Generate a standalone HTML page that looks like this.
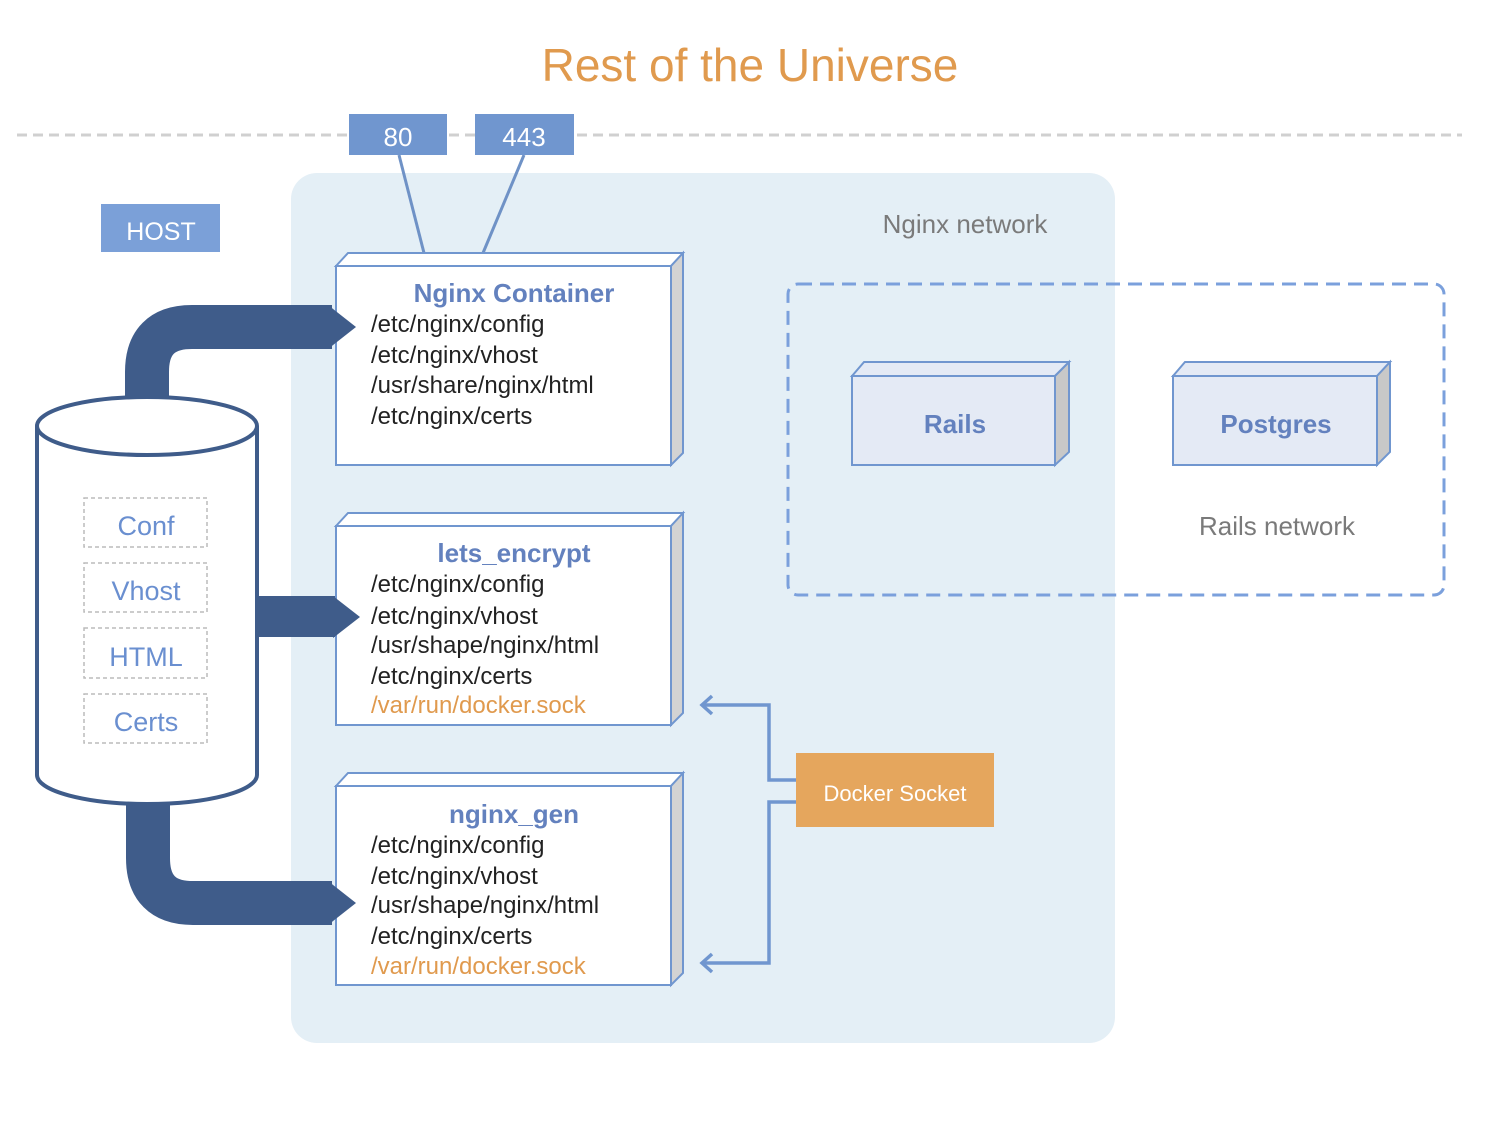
<!DOCTYPE html>
<html><head><meta charset="utf-8"><style>body{margin:0;background:#fff}svg{display:block}text{font-family:"Liberation Sans",sans-serif}</style></head>
<body>
<svg width="1500" height="1125" viewBox="0 0 1500 1125" xmlns="http://www.w3.org/2000/svg">
<text x="750" y="81" text-anchor="middle" font-size="46" fill="#E09A4E">Rest of the Universe</text>
<line x1="17" y1="135" x2="1462" y2="135" stroke="#d0d0d0" stroke-width="3" stroke-dasharray="10 6"/>
<rect x="291" y="173" width="824" height="870" rx="26" fill="#E4EFF6"/>
<line x1="399" y1="155" x2="424" y2="253" stroke="#6F92C6" stroke-width="3"/>
<line x1="524" y1="155" x2="483" y2="253" stroke="#6F92C6" stroke-width="3"/>
<rect x="349" y="114" width="98" height="41" fill="#7096CF"/>
<text x="398" y="146" text-anchor="middle" font-size="26" fill="#fff">80</text>
<rect x="475" y="114" width="99" height="41" fill="#7096CF"/>
<text x="524" y="146" text-anchor="middle" font-size="26" fill="#fff">443</text>
<rect x="101" y="204" width="119" height="48" fill="#7BA0D8"/>
<text x="161" y="240" text-anchor="middle" font-size="25" fill="#fff">HOST</text>
<text x="965" y="233" text-anchor="middle" font-size="26" fill="#7a7a7a">Nginx network</text>

<g stroke="#7096CF" stroke-width="2">
<polygon points="336,266 348,253 683,253 671,266" fill="#fff"/>
<polygon points="671,266 683,253 683,453 671,465" fill="#d3d3d3"/>
<rect x="336" y="266" width="335" height="199" fill="#fff"/>
<polygon points="336,526 348,513 683,513 671,526" fill="#fff"/>
<polygon points="671,526 683,513 683,713 671,725" fill="#d3d3d3"/>
<rect x="336" y="526" width="335" height="199" fill="#fff"/>
<polygon points="336,786 348,773 683,773 671,786" fill="#fff"/>
<polygon points="671,786 683,773 683,973 671,985" fill="#d3d3d3"/>
<rect x="336" y="786" width="335" height="199" fill="#fff"/>
</g>
<g font-size="24" fill="#222">
<text x="514" y="302" text-anchor="middle" font-weight="bold" fill="#6381BE" font-size="26">Nginx Container</text>
<text x="371" y="332">/etc/nginx/config</text>
<text x="371" y="363">/etc/nginx/vhost</text>
<text x="371" y="393">/usr/share/nginx/html</text>
<text x="371" y="424">/etc/nginx/certs</text>
<text x="514" y="562" text-anchor="middle" font-weight="bold" fill="#6381BE" font-size="26">lets_encrypt</text>
<text x="371" y="592">/etc/nginx/config</text>
<text x="371" y="624">/etc/nginx/vhost</text>
<text x="371" y="653">/usr/shape/nginx/html</text>
<text x="371" y="684">/etc/nginx/certs</text>
<text x="371" y="713" fill="#E09A4E">/var/run/docker.sock</text>
<text x="514" y="823" text-anchor="middle" font-weight="bold" fill="#6381BE" font-size="26">nginx_gen</text>
<text x="371" y="853">/etc/nginx/config</text>
<text x="371" y="884">/etc/nginx/vhost</text>
<text x="371" y="913">/usr/shape/nginx/html</text>
<text x="371" y="944">/etc/nginx/certs</text>
<text x="371" y="974" fill="#E09A4E">/var/run/docker.sock</text>
</g>

<g fill="none" stroke="#3F5C8A" stroke-width="44">
<path d="M147,410 V372 Q147,327 192,327 H332"/>
<path d="M148,790 V858 Q148,903 193,903 H332"/>
</g>
<g fill="#3F5C8A">
<polygon points="328,305 356,327 328,349"/>
<polygon points="328,881 356,903 328,925"/>
<rect x="255" y="596" width="80" height="41"/>
<polygon points="333,596 360,617 333,638"/>
</g>

<path d="M37,426 V775 A110,29 0 0 0 257,775 V426" fill="#fff" stroke="#3F5C8A" stroke-width="4"/>
<ellipse cx="147" cy="426" rx="110" ry="29" fill="#fff" stroke="#3F5C8A" stroke-width="4"/>
<g fill="#fff" stroke="#bbb" stroke-width="1.5" stroke-dasharray="4 3">
<rect x="84" y="498" width="123" height="49"/>
<rect x="84" y="563" width="123" height="49"/>
<rect x="84" y="628" width="123" height="50"/>
<rect x="84" y="694" width="123" height="49"/>
</g>
<g font-size="27" fill="#6A8FD0" text-anchor="middle">
<text x="146" y="535">Conf</text>
<text x="146" y="600">Vhost</text>
<text x="146" y="666">HTML</text>
<text x="146" y="731">Certs</text>
</g>

<g fill="none" stroke="#7096CF" stroke-width="3.5">
<path d="M796,780 H769 V705 H702"/>
<path d="M712,696 L702,705 L712,714"/>
<path d="M796,802 H769 V963 H702"/>
<path d="M712,954 L702,963 L712,972"/>
</g>
<rect x="796" y="753" width="198" height="74" fill="#E5A65D"/>
<text x="895" y="801" text-anchor="middle" font-size="22" fill="#fff">Docker Socket</text>

<rect x="788" y="284" width="656" height="311" rx="10" fill="none" stroke="#7BA0DC" stroke-width="3" stroke-dasharray="14 8"/>
<g stroke="#7096CF" stroke-width="2">
<polygon points="852,376 864,362 1069,362 1055,376" fill="#E4EAF5"/>
<polygon points="1055,376 1069,362 1069,452 1055,465" fill="#c8c8c8"/>
<rect x="852" y="376" width="203" height="89" fill="#E4EAF5"/>
<polygon points="1173,376 1185,362 1390,362 1377,376" fill="#E4EAF5"/>
<polygon points="1377,376 1390,362 1390,452 1377,465" fill="#c8c8c8"/>
<rect x="1173" y="376" width="204" height="89" fill="#E4EAF5"/>
</g>
<text x="955" y="433" text-anchor="middle" font-size="26" font-weight="bold" fill="#6381BE">Rails</text>
<text x="1276" y="433" text-anchor="middle" font-size="26" font-weight="bold" fill="#6381BE">Postgres</text>
<text x="1277" y="535" text-anchor="middle" font-size="26" fill="#7a7a7a">Rails network</text>
</svg>
</body></html>
